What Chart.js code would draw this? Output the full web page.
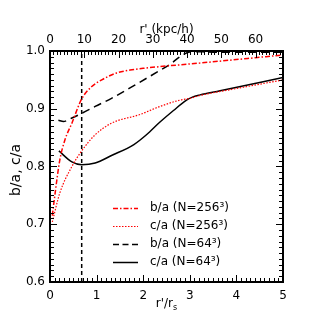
<!DOCTYPE html>
<html>
<head>
<meta charset="utf-8">
<script src="https://cdn.jsdelivr.net/npm/chart.js@4.4.1/dist/chart.umd.min.js"></script>
<style>
  html, body { margin: 0; padding: 0; background: #fff; }
</style>
</head>
<body>
<canvas id="shapeChart" width="332" height="332"></canvas>
<script>
// axis ratios b/a and c/a against r'/r_s
const rBa256 = [0.05, 0.11, 0.21, 0.32, 0.47, 0.68, 0.89, 1.11, 1.43, 1.72, 2.0, 3.2, 5.0];
const ba256  = [0.715, 0.754, 0.811, 0.846, 0.875, 0.917, 0.938, 0.950, 0.962, 0.967, 0.970, 0.979, 0.993];

const rCa256 = [0.05, 0.21, 0.47, 0.68, 0.97, 1.32, 1.93, 2.36, 2.79, 3.0, 3.22, 4.0, 5.0];
const ca256  = [0.704, 0.754, 0.800, 0.827, 0.855, 0.875, 0.890, 0.904, 0.915, 0.918, 0.923, 0.935, 0.950];

const rBa64 = [0.18, 0.29, 0.47, 0.68, 0.97, 1.32, 1.82, 2.5, 3.05, 3.5, 4.0, 5.0];
const ba64  = [0.880, 0.878, 0.884, 0.892, 0.904, 0.918, 0.941, 0.973, 0.999, 0.998, 0.998, 0.998];

const rCa64 = [0.19, 0.47, 0.68, 0.97, 1.32, 1.8, 2.07, 2.36, 2.65, 2.93, 3.08, 3.22, 3.65, 5.0];
const ca64  = [0.827, 0.808, 0.803, 0.806, 0.819, 0.838, 0.855, 0.877, 0.897, 0.915, 0.921, 0.924, 0.931, 0.954];

// vertical marker line
const vlineX = [0.68, 0.68];
const vlineY = [0.6, 1.0];

const seriesLabels = ['b/a (N=256³)', 'c/a (N=256³)', 'b/a (N=64³)', 'c/a (N=64³)'];

// tick labels
const xTicks = [0, 1, 2, 3, 4, 5];
const yTicks = [0.6, 0.7, 0.8, 0.9, 1.0];
const topTicks = [0, 10, 20, 30, 40, 50, 60];
const rs = 13.6; // kpc/h per r_s
const topMax = 5 * rs;

function toPoints(xs, ys) {
    return xs.map((x, i) => ({ x: x, y: ys[i] }));
}

const FONT = 'DejaVu Sans';

// frame, inward ticks, titles and legend
const framePlugin = {
    id: 'framePlugin',
    afterDraw(chart) {
        const ctx = chart.ctx;
        const a = chart.chartArea;
        const sx = chart.scales.x, sy = chart.scales.y, st = chart.scales.x2;
        ctx.save();
        ctx.setLineDash([]);
        ctx.strokeStyle = '#000';
        ctx.lineWidth = 2;
        ctx.strokeRect(a.left, a.top, a.right - a.left, a.bottom - a.top);

        ctx.lineWidth = 1;
        ctx.beginPath();
        // bottom axis ticks
        for (let i = 0; i <= 50; i++) {
            const px = Math.round(sx.getPixelForValue(i / 10)) + 0.5;
            const len = (i % 10 === 0) ? 7 : 4;
            ctx.moveTo(px, a.bottom); ctx.lineTo(px, a.bottom - len);
        }
        // top axis ticks
        for (let v = 0; v <= topMax; v++) {
            const px = Math.round(st.getPixelForValue(v)) + 0.5;
            const len = (v % 10 === 0) ? 7 : 4;
            ctx.moveTo(px, a.top); ctx.lineTo(px, a.top + len);
        }
        // y ticks both sides
        for (let i = 60; i <= 100; i++) {
            const py = Math.round(sy.getPixelForValue(i / 100)) + 0.5;
            const len = (i % 10 === 0) ? 7 : 4;
            ctx.moveTo(a.left, py); ctx.lineTo(a.left + len, py);
            ctx.moveTo(a.right, py); ctx.lineTo(a.right - len, py);
        }
        ctx.stroke();

        // titles
        ctx.fillStyle = '#000';
        ctx.textBaseline = 'middle';
        ctx.textAlign = 'center';
        ctx.font = '12px "' + FONT + '"';
        const cx = (a.left + a.right) / 2;
        ctx.fillText("r' (kpc/h)", cx, 30);

        const main = "r'/r";
        const mw = ctx.measureText(main).width;
        ctx.font = '8px "' + FONT + '"';
        const subw = ctx.measureText('s').width;
        const x0 = cx - (mw + subw) / 2;
        ctx.textAlign = 'left';
        ctx.font = '12px "' + FONT + '"';
        ctx.fillText(main, x0, 304);
        ctx.font = '8px "' + FONT + '"';
        ctx.fillText('s', x0 + mw, 308);

        ctx.save();
        ctx.translate(16, 170);
        ctx.rotate(-Math.PI / 2);
        ctx.textAlign = 'center';
        ctx.font = '14px "' + FONT + '"';
        ctx.fillText('b/a, c/a', 0, 0);
        ctx.restore();

        // legend inside the plot
        const rowY = [208, 226, 244, 262];
        chart.data.datasets.slice(0, 4).forEach((ds, i) => {
            ctx.save();
            ctx.strokeStyle = ds.borderColor;
            ctx.lineWidth = ds.borderWidth;
            ctx.setLineDash(ds.legendDash || ds.borderDash || []);
            ctx.beginPath();
            ctx.moveTo(113, rowY[i] + 0.5);
            ctx.lineTo(138, rowY[i] + 0.5);
            ctx.stroke();
            ctx.restore();
            ctx.textAlign = 'left';
            ctx.font = '12px "' + FONT + '"';
            ctx.fillText(ds.label, 150, rowY[i]);
        });
        ctx.restore();
    }
};

document.addEventListener('DOMContentLoaded', function() {
    const ctx = document.getElementById('shapeChart').getContext('2d');

    const chartData = {
        datasets: [
            {
                label: seriesLabels[0],
                data: toPoints(rBa256, ba256),
                borderColor: '#ff0000',
                borderWidth: 1.5,
                borderDash: [5, 2, 1.5, 2],
                cubicInterpolationMode: 'monotone'
            },
            {
                label: seriesLabels[1],
                data: toPoints(rCa256, ca256),
                borderColor: '#ff0000',
                borderWidth: 1.2,
                borderDash: [1.5, 1.5],
                cubicInterpolationMode: 'monotone'
            },
            {
                label: seriesLabels[2],
                data: toPoints(rBa64, ba64),
                borderColor: '#000000',
                borderWidth: 1.5,
                borderDash: [8, 5],
                legendDash: [6, 3.5],
                cubicInterpolationMode: 'monotone'
            },
            {
                label: seriesLabels[3],
                data: toPoints(rCa64, ca64),
                borderColor: '#000000',
                borderWidth: 1.5,
                cubicInterpolationMode: 'monotone'
            },
            {
                label: 'marker',
                data: toPoints(vlineX, vlineY),
                borderColor: '#000000',
                borderWidth: 1.5,
                borderDash: [4, 3]
            }
        ]
    };

    const tickFont = { family: FONT, size: 12 };

    const config = {
        type: 'line',
        data: chartData,
        plugins: [framePlugin],
        options: {
            responsive: false,
            devicePixelRatio: 1,
            animation: false,
            layout: { padding: { left: 0, right: 49, top: 0, bottom: 0 } },
            elements: { point: { radius: 0 } },
            plugins: { legend: { display: false }, tooltip: { enabled: false } },
            scales: {
                x: {
                    type: 'linear', position: 'bottom', min: 0, max: 5,
                    afterBuildTicks: s => { s.ticks = xTicks.map(v => ({ value: v })); },
                    afterFit: s => { s.height = 50; },
                    grid: { display: false, drawTicks: false },
                    border: { display: false },
                    ticks: { color: '#000', font: tickFont, padding: 7, maxRotation: 0,
                             callback: v => String(v) }
                },
                x2: {
                    type: 'linear', position: 'top', min: 0, max: topMax,
                    afterBuildTicks: s => { s.ticks = topTicks.map(v => ({ value: v })); },
                    afterFit: s => { s.height = 51; },
                    grid: { display: false, drawTicks: false },
                    border: { display: false },
                    ticks: { color: '#000', font: tickFont, padding: 4, maxRotation: 0,
                             callback: v => String(v) }
                },
                y: {
                    type: 'linear', min: 0.6, max: 1.0,
                    afterBuildTicks: s => { s.ticks = yTicks.map(v => ({ value: v })); },
                    afterFit: s => { s.width = 50; },
                    grid: { display: false, drawTicks: false },
                    border: { display: false },
                    ticks: { color: '#000', font: tickFont, padding: 5,
                             callback: v => v.toFixed(1) }
                }
            }
        }
    };

    new Chart(ctx, config);
});
</script>
</body>
</html>
